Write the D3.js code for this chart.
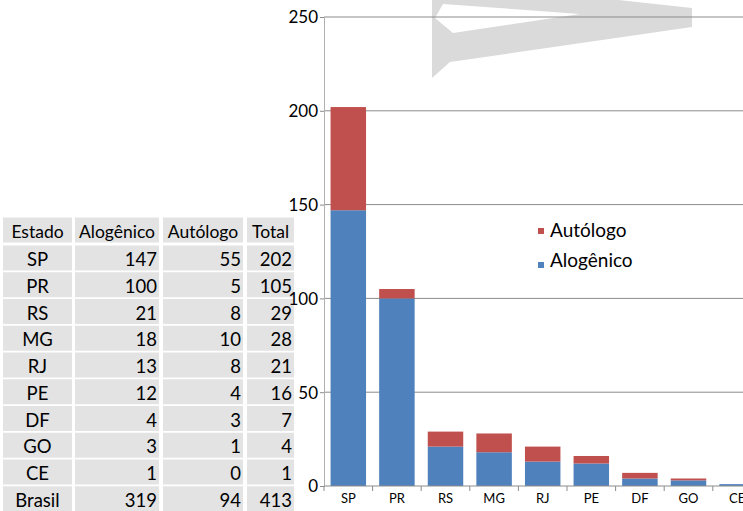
<!DOCTYPE html>
<html><head><meta charset="utf-8">
<script src="https://cdn.jsdelivr.net/npm/d3@7/dist/d3.min.js"></script>
<style>body{margin:0;background:#fff}svg{display:block}text{font-family:Lato,"Open Sans",sans-serif;fill:#000}</style>
</head><body><svg id="c" width="743" height="511"></svg>
<script>
const estados = ["SP","PR","RS","MG","RJ","PE","DF","GO","CE"];
const alogenico = [147,100,21,18,13,12,4,3,1];
const autologo = [55,5,8,10,8,4,3,1,0];
const totais = [202,105,29,28,21,16,7,4,1];
const brasil = ["Brasil",319,94,413];
const headers = ["Estado","Alogênico","Autólogo","Total"];
const yTicks = [0,50,100,150,200,250];
const seriesNames = ["Alogênico","Autólogo"];
const colors = ["#4F81BD","#C0504D"];

const svg = d3.select("#c");
const defs = svg.append("defs");
defs.append("filter").attr("id","soft").append("feGaussianBlur").attr("stdDeviation",0.7);

// watermark
svg.append("path")
  .attr("d","M432,-2 L600,-2 L692,8 L692,27 L450,62 L432,78 Z M443,4 L580,14 L453,33 L435,18 Z")
  .attr("fill","#dadada").attr("fill-rule","evenodd").attr("filter","url(#soft)");

// table
const colX = [3,75,163,247], colW = [69,84,80,47];
const rowBase = [238].concat(estados.map((d,i)=>266+i*26.75), [266+9*26.75]);
const rows = [headers].concat(estados.map((e,i)=>[e,alogenico[i],autologo[i],totais[i]]), [brasil]);
const tg = svg.append("g");
rows.forEach((r,ri)=>{
  r.forEach((v,ci)=>{
    tg.append("rect").attr("x",colX[ci]).attr("y",rowBase[ri]-20.5).attr("width",colW[ci]).attr("height",25).attr("fill","#e3e3e3");
    const t = tg.append("text").attr("y",rowBase[ri]).style("font-size", ri===0 ? "17.5px" : "18.5px").text(v);
    if(ri===0 || ci===0){ t.attr("x",colX[ci]+colW[ci]/2).attr("text-anchor","middle"); }
    else { t.attr("x",colX[ci]+colW[ci]-2).attr("text-anchor","end"); }
  });
});

// chart
const x0 = 324, y0 = 486;
const x = d3.scaleBand().domain(estados).range([x0, x0+9*48.6]).paddingInner(0.27).paddingOuter(0.135);
const y = d3.scaleLinear().domain([0,250]).range([y0,17]);

const g = svg.append("g");
g.selectAll(".grid").data(yTicks.filter(d=>d>0)).join("line")
  .attr("x1",x0).attr("x2",743).attr("y1",d=>y(d)).attr("y2",d=>y(d))
  .attr("stroke","#8c8c8c").attr("stroke-width",1);

const stack = d3.stack().keys([0,1]).value((d,k)=>k===0?d.a:d.b);
const data = estados.map((e,i)=>({e,a:alogenico[i],b:autologo[i]}));
const layers = stack(data);
layers.forEach((L,li)=>{
  g.selectAll(".b"+li).data(L).join("rect")
    .attr("x",d=>x(d.data.e)).attr("width",x.bandwidth())
    .attr("y",d=>y(d[1])).attr("height",d=>y(d[0])-y(d[1]))
    .attr("fill",colors[li]);
});

// y axis
const ya = d3.axisLeft(y).tickValues(yTicks).tickSize(4).tickPadding(2);
const yg = g.append("g").attr("transform",`translate(${x0},0)`).call(ya);
yg.select(".domain").attr("stroke","#b0b0b0");
yg.selectAll(".tick line").attr("stroke","#8c8c8c");
yg.selectAll(".tick text").style("font-size","17px").attr("fill","#000").attr("dy","0.35em");

// x axis
const xa = d3.axisBottom(x).tickSize(0).tickPadding(8);
const xg = g.append("g").attr("transform",`translate(0,${y0})`).call(xa);
xg.select(".domain").remove();
xg.append("line").attr("x1",x0).attr("x2",743).attr("stroke","#8c8c8c");
xg.selectAll(".tick text").style("font-size","13px").attr("fill","#000");
xg.selectAll(".sep").data(d3.range(10)).join("line")
  .attr("x1",i=>x0+i*48.6).attr("x2",i=>x0+i*48.6).attr("y1",0).attr("y2",5).attr("stroke","#8c8c8c");

// legend
const leg = [{n:"Autólogo",c:colors[1],y:236.5,sy:228},{n:"Alogênico",c:colors[0],y:267,sy:262}];
leg.forEach(l=>{
  svg.append("rect").attr("x",538).attr("y",l.sy).attr("width",6).attr("height",6).attr("fill",l.c);
  svg.append("text").attr("x",550).attr("y",l.y).style("font-size","19px").text(l.n);
});
</script></body></html>
